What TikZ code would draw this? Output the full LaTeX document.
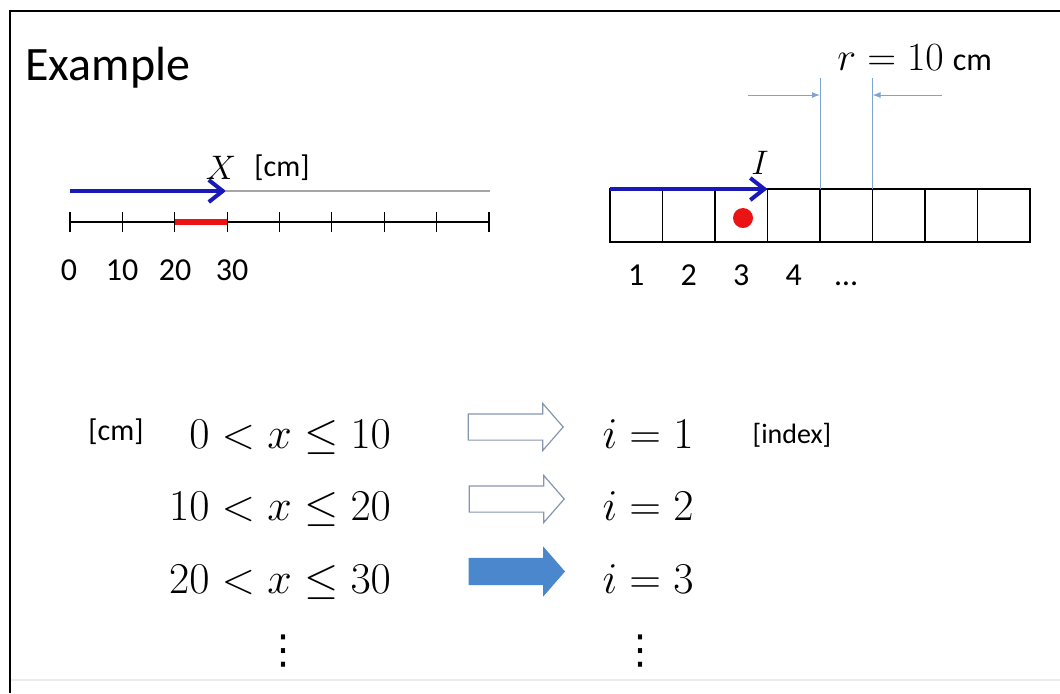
\RequirePackage{fix-cm}
\documentclass[tikz,border=0pt]{standalone}
\usepackage[no-math]{fontspec}
\setmainfont{Carlito}
\newfontfamily\symfont{DejaVu Sans}
\usepackage{tikz}
\usetikzlibrary{arrows.meta,shapes.arrows}
\definecolor{PathBlue}{RGB}{25,25,185}
\definecolor{MarkRed}{RGB}{235,20,20}
\definecolor{DimBlue}{RGB}{125,165,210}
\definecolor{BlockBlue}{RGB}{75,135,205}
\definecolor{BlockEdge}{RGB}{135,150,175}
\newcommand{\fsz}[1]{\fontsize{#1}{#1}\selectfont}
\tikzset{
  cell/.style={draw,line width=0.65pt,minimum width=26.25pt,minimum height=26.5pt,inner sep=0pt,outer sep=0pt},
  block/.style={single arrow,draw=BlockEdge,line width=0.6pt,minimum height=47.5pt,minimum width=23pt,
    single arrow head extend=5.25pt,single arrow tip angle=98,inner xsep=0pt,inner ysep=6.25pt},
  barb/.style={-{Straight Barb[length=7pt,width=11pt]},line width=2pt,PathBlue},
  dim/.style={DimBlue,line width=0.5pt}
}

\begin{document}
\begin{tikzpicture}[x=0.5pt,y=-0.5pt,>=Latex]
  \useasboundingbox (0,0) rectangle (1060,693);
  % frame
  \draw[line width=1pt] (10,693) -- (10,11) -- (1060,11);
  \draw[line width=1pt,black!8] (11,680) -- (1060,680);
  \node[anchor=base west,inner sep=0pt,font=\fsz{24}] (title) at (25,80) {Example};

  % number line
  \coordinate (x0) at (70,191);
  \coordinate (xt) at (226,191);
  \coordinate (xe) at (490,191);
  \draw[gray!70,line width=0.6pt] (xt) -- (xe);
  \draw[barb] (x0) -- (xt);
  \node[font=\fsz{17}] (xlab) at (221,168) {$X$};
  \node[font=\fsz{15}] (xunit) at (282,168) {[cm]};
  \draw[line width=0.6pt] (70,222) -- (489,222);
  \foreach \k in {0,...,8}
    \draw[line width=0.6pt] ({70+52.375*\k},212) -- ({70+52.375*\k},232);
  \draw[MarkRed,line width=3pt] (174.75,222) -- (227.1,222);
  \foreach \x/\t in {69/0,122/10,175/20,232/30}
    \node[anchor=base,font=\fsz{16}] at (\x,280) {\t};

  % cells
  \foreach \i in {1,...,8}
    \node[cell] (c\i) at ({610+52.5*\i-26.25},215.5) {};
  \foreach \i/\t in {1/1,2/2,3/3,4/4,5/\ldots}
    \node[anchor=base,font=\fsz{16}] at (c\i.south |- 0,285) {\t};
  \draw[barb] (c1.north west) -- (c4.north west);
  \node[font=\fsz{17}] (ilab) at (760,163) {$I$};
  \node[circle,fill=MarkRed,minimum size=10pt,inner sep=0pt] (pt) at (743,218) {};

  % r = 10 cm
  \coordinate (d1) at (c4.north east |- 0,78);
  \coordinate (d2) at (c5.north east |- 0,78);
  \draw[dim] (c4.north east) -- (d1);
  \draw[dim] (c5.north east) -- (d2);
  \coordinate (a1) at (748,95);
  \coordinate (a2) at (942,95);
  \draw[dim,-{Latex[length=4pt,width=3pt]}] (a1) -- (a1 -| d1);
  \draw[dim,-{Latex[length=4pt,width=3pt]}] (a2) -- (a2 -| d2);
  \node[anchor=base west,inner sep=0pt] (rlab) at (837,70) {\fsz{20}$r = 10$ \fsz{16}cm};

  % x -> i
  \node[font=\fsz{15}] (cmunit) at (116,432) {[cm]};
  \foreach \y/\a/\b/\i in {448/0/10/1,520/10/20/2,593/20/30/3} {
    \node[anchor=base east,font=\fsz{22}] (x\i) at (398,\y) {$\a < x \le \b$};
    \node[anchor=base,font=\fsz{22}] (i\i) at (648,\y) {$i = \i$};
  }
  \node[block,fill=white] (b1) at (510,427) {};
  \node[block,fill=white] (b2) at (511,499) {};
  \node[block,draw=BlockBlue,fill=BlockBlue] (b3) at (511,571.5) {};
  \node[font=\fsz{14}] (idx) at (792,435) {[index]};
  \node[font=\symfont\fsz{20}] (vd1) at (283,651) {⋮};
  \node[font=\symfont\fsz{20}] (vd2) at (640,651) {⋮};
\end{tikzpicture}
\end{document}
